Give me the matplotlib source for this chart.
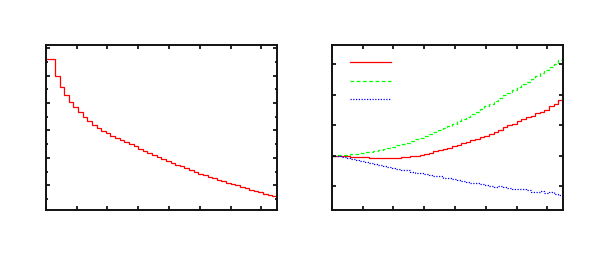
import numpy as np
import matplotlib
matplotlib.use("Agg")
import matplotlib.pyplot as plt
from matplotlib.ticker import MultipleLocator, NullFormatter
from matplotlib.lines import Line2D

# ---- data (50 bins over x = 0 .. 7.5) ----
x_min, x_max, n_bins = 0.0, 7.5, 50

left_values = [4.60, 4.60, 3.99, 3.58, 3.29, 3.05, 2.84, 2.66, 2.50, 2.35,
               2.215, 2.09, 1.985, 1.90, 1.815, 1.735, 1.655, 1.575, 1.495, 1.415,
               1.34, 1.265, 1.19, 1.115, 1.04, 0.965, 0.89, 0.82, 0.75, 0.685,
               0.62, 0.55, 0.485, 0.42, 0.365, 0.31, 0.255, 0.20, 0.145, 0.09,
               0.04, -0.01, -0.06, -0.11, -0.16, -0.21, -0.26, -0.31, -0.355, -0.40]

red_values = [0.00, -0.005, -0.01, -0.02, -0.03, -0.035, -0.045, -0.055, -0.065, -0.075,
              -0.08, -0.085, -0.08, -0.075, -0.07, -0.055, -0.04, -0.02, 0.00, 0.03,
              0.06, 0.10, 0.14, 0.18, 0.225, 0.265, 0.31, 0.36, 0.41, 0.45,
              0.50, 0.55, 0.60, 0.66, 0.72, 0.79, 0.85, 0.93, 0.99, 1.03,
              1.13, 1.20, 1.25, 1.30, 1.39, 1.44, 1.50, 1.62, 1.68, 1.83]

green_values = [0.00, 0.01, 0.02, 0.035, 0.05, 0.065, 0.085, 0.105, 0.13, 0.16,
                0.19, 0.22, 0.255, 0.29, 0.335, 0.38, 0.43, 0.48, 0.535, 0.59,
                0.65, 0.71, 0.775, 0.84, 0.905, 0.975, 1.045, 1.12, 1.20, 1.28,
                1.36, 1.44, 1.525, 1.61, 1.70, 1.79, 1.88, 1.97, 2.06, 2.15,
                2.24, 2.33, 2.42, 2.51, 2.60, 2.695, 2.79, 2.885, 3.00, 3.12]

blue_values = [0.00, -0.02, -0.05, -0.08, -0.11, -0.14, -0.18, -0.21, -0.24, -0.27,
               -0.30, -0.34, -0.37, -0.40, -0.43, -0.46, -0.48, -0.52, -0.55, -0.57,
               -0.60, -0.63, -0.66, -0.68, -0.72, -0.74, -0.77, -0.80, -0.82, -0.85,
               -0.88, -0.90, -0.93, -0.96, -0.98, -1.01, -0.99, -1.02, -1.07, -1.09,
               -1.10, -1.08, -1.12, -1.18, -1.20, -1.17, -1.22, -1.19, -1.24, -1.30]

edges = np.linspace(x_min, x_max, n_bins + 1)

W, H = 591, 256
fig = plt.figure(figsize=(W / 100, H / 100), dpi=100)

def px_axes(x0, x1, y0, y1):
    return fig.add_axes([x0 / W, 1 - y1 / H, (x1 - x0) / W, (y1 - y0) / H])

ax1 = px_axes(45.7, 276.9, 45.0, 209.5)
ax2 = px_axes(331.7, 562.9, 45.0, 209.5)

def style(ax, ymin, ymax, minor_y):
    ax.set_xlim(x_min, x_max)
    ax.set_ylim(ymin, ymax)
    ax.xaxis.set_major_locator(MultipleLocator(1))
    ax.yaxis.set_major_locator(MultipleLocator(1))
    if minor_y:
        ax.yaxis.set_minor_locator(MultipleLocator(0.5))
    ax.xaxis.set_major_formatter(NullFormatter())
    ax.yaxis.set_major_formatter(NullFormatter())
    ax.tick_params(which='both', direction='in', top=True, right=True,
                   bottom=True, left=True, labelbottom=False, labelleft=False,
                   color='black', width=1.2)
    ax.tick_params(which='major', length=3.0)
    ax.tick_params(which='minor', length=1.6)
    for s in ax.spines.values():
        s.set_linewidth(1.4)
        s.set_color('#111111')

style(ax1, -0.889, 5.124, True)
style(ax2, -1.76, 3.62, False)

LW = 0.9
ax1.stairs(left_values, edges, baseline=None, color='#ff0000', linewidth=LW)

ax2.stairs(red_values, edges, baseline=None, color='#ff0000', linewidth=LW)
ax2.stairs(green_values, edges, baseline=None, color='#00ff00', linewidth=LW,
           linestyle=(0, (3, 2)))
ax2.stairs(blue_values, edges, baseline=None, color='#0000ff', linewidth=LW,
           linestyle=(0, (1, 1.2)))

handles = [Line2D([], [], color='#ff0000', linewidth=LW),
           Line2D([], [], color='#00ff00', linewidth=LW, linestyle=(0, (3, 2))),
           Line2D([], [], color='#0000ff', linewidth=LW, linestyle=(0, (1, 1.2)))]
ax2.legend(handles, ['', '', ''], loc='upper left', bbox_to_anchor=(0.0792, 0.92),
           frameon=False, fontsize=8, handlelength=3.69, handletextpad=0,
           borderpad=0, borderaxespad=0, labelspacing=0.75)

fig.savefig('out.png', dpi=100)
